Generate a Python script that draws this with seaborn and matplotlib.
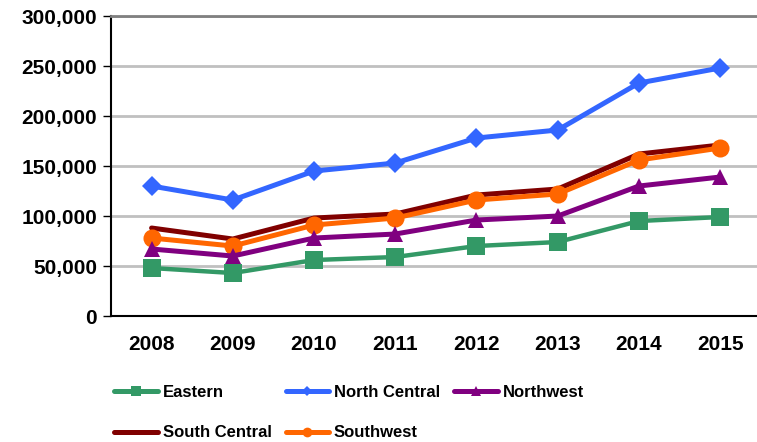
import matplotlib
matplotlib.use("Agg")
import matplotlib.pyplot as plt
import seaborn as sns
import pandas as pd
from matplotlib.ticker import MultipleLocator
from matplotlib.lines import Line2D

years = [2008, 2009, 2010, 2011, 2012, 2013, 2014, 2015]
eastern = [48000, 43000, 56000, 59000, 70000, 74000, 95000, 99000]
north_central = [130000, 116000, 145000, 153000, 178000, 186000, 233000, 248000]
northwest = [67000, 60000, 78000, 82000, 96000, 100000, 130000, 139000]
south_central = [88000, 77000, 98000, 102000, 121000, 127000, 162000, 171000]
southwest = [78000, 70000, 91000, 98000, 116000, 122000, 156000, 168000]
y_ticks = [0, 50000, 100000, 150000, 200000, 250000, 300000]

series_names = ["Eastern", "North Central", "Northwest", "South Central", "Southwest"]
series_values = [eastern, north_central, northwest, south_central, southwest]

colors = {"Eastern": "#339966", "North Central": "#3366FF", "Northwest": "#800080",
          "South Central": "#800000", "Southwest": "#FF6600"}
markers = {"Eastern": "s", "North Central": "D", "Northwest": "^",
           "South Central": "", "Southwest": "o"}
msizes = {"Eastern": 13, "North Central": 10.5, "Northwest": 12, "South Central": 0, "Southwest": 13}
lwidths = {"Eastern": 3.2, "North Central": 3.6, "Northwest": 3.6, "South Central": 3.6, "Southwest": 3.6}

sns.set_style("white")
plt.rcParams['font.family'] = ['Liberation Sans', 'DejaVu Sans']
plt.rcParams['font.weight'] = 'bold'
plt.rcParams['text.color'] = 'black'
plt.rcParams['xtick.color'] = 'black'
plt.rcParams['ytick.color'] = 'black'

fig = plt.figure(figsize=(7.57, 4.42), dpi=100)
ax = fig.add_axes([0.1466, 0.285, 1.005 - 0.1466, 0.9638 - 0.285])

draw_order = ["South Central", "Southwest", "Northwest", "Eastern", "North Central"]
for name in draw_order:
    vals = series_values[series_names.index(name)]
    df = pd.DataFrame({"year": years, "value": vals})
    m = markers[name] if markers[name] else None
    sns.lineplot(data=df, x="year", y="value", ax=ax, color=colors[name],
                 linewidth=lwidths[name], marker=m, markersize=msizes[name],
                 markeredgewidth=0, legend=False, zorder=3)

ax.set_xlim(2007.5, 2015.5)
ax.set_ylim(0, 300000)
ax.set_xlabel("")
ax.set_ylabel("")
ax.set_xticks(years)
ax.set_xticklabels([str(y) for y in years])
ax.xaxis.set_minor_locator(MultipleLocator(1, offset=0.5))
ax.tick_params(axis='x', which='major', length=0, pad=14)
ax.tick_params(axis='x', which='minor', length=6, width=1, color='black', direction='out')
ax.set_yticks(y_ticks)
ax.set_yticklabels([f"{v:,}" for v in y_ticks])
ax.tick_params(axis='y', which='major', length=6, width=1, color='black', direction='out',
               pad=4, left=True)
for lab in ax.get_xticklabels() + ax.get_yticklabels():
    lab.set_fontfamily('Liberation Sans')
    lab.set_fontweight('bold')
    lab.set_fontsize(15)
    lab.set_color('black')

ax.grid(axis='y', color='#C0C0C0', linewidth=2)
ax.grid(axis='x', visible=False)
ax.set_axisbelow(True)
for s in ['left', 'bottom']:
    ax.spines[s].set_color('black')
    ax.spines[s].set_linewidth(1.5)
ax.spines['top'].set_color('#808080')
ax.spines['top'].set_linewidth(2)
ax.spines['right'].set_visible(False)

leg_ms = {"Eastern": 7, "North Central": 5.5, "Northwest": 7, "South Central": 0, "Southwest": 7}
legend_order = ["Eastern", "South Central", "North Central", "Southwest", "Northwest"]
handles = []
for name in legend_order:
    handles.append(Line2D([0], [0], color=colors[name], linewidth=3.6,
                          marker=markers[name] if markers[name] else None,
                          markersize=leg_ms[name], markeredgewidth=0,
                          solid_capstyle='round'))
leg = fig.legend(handles, legend_order, loc='upper left', bbox_to_anchor=(0.151, 0.130),
                 ncol=3, frameon=False, handlelength=2.6, handletextpad=0.3,
                 columnspacing=0.85, labelspacing=1.55, labelcolor='black',
                 prop={'size': 12, 'weight': 'bold', 'family': 'Liberation Sans'},
                 borderaxespad=0, borderpad=0)

fig.savefig("out.png", dpi=100)
